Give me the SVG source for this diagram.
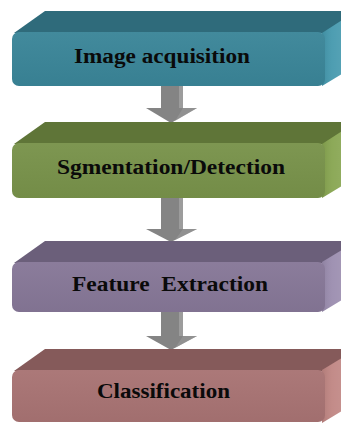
<svg xmlns="http://www.w3.org/2000/svg" width="341" height="423" viewBox="0 0 341 423">
<style>
.lbl{font-family:"Liberation Serif","Times New Roman",serif;font-weight:bold;font-size:20px;fill:#0a0a0a;text-anchor:start}
.shaft{fill:#848484}
.shaftHi{fill:#9c9c9c}
</style>
<defs>
<linearGradient id="sideG" x1="0" y1="0" x2="1" y2="0">
<stop offset="0" stop-color="#000" stop-opacity="0.08"/>
<stop offset="0.3" stop-color="#fff" stop-opacity="0.05"/>
<stop offset="1" stop-color="#fff" stop-opacity="0.15"/>
</linearGradient>
<linearGradient id="frontG" x1="0" y1="0" x2="0" y2="1">
<stop offset="0" stop-color="#fff" stop-opacity="0.04"/>
<stop offset="1" stop-color="#000" stop-opacity="0.04"/>
</linearGradient>
</defs>
<rect width="341" height="423" fill="#fff"/>

<g id="connectors">
<g id="arrow1">
<rect class="shaft" x="161" y="86" width="22" height="23"/>
<rect class="shaftHi" x="179" y="86" width="4" height="23"/>
<polygon points="146,108 197,108 171,123" fill="#848484"/>
<polygon points="183,108 197,108 175,121" fill="#999" opacity="0.6"/>
</g>
<g id="arrow2">
<rect class="shaft" x="161" y="198" width="22" height="32"/>
<rect class="shaftHi" x="179" y="198" width="4" height="32"/>
<polygon points="146,229 197,229 171,242" fill="#848484"/>
<polygon points="183,229 197,229 175,240" fill="#999" opacity="0.6"/>
</g>
<g id="arrow3">
<rect class="shaft" x="161" y="312" width="22" height="25"/>
<rect class="shaftHi" x="179" y="312" width="4" height="25"/>
<polygon points="146,336 197,336 171,350" fill="#848484"/>
<polygon points="183,336 197,336 175,348" fill="#999" opacity="0.6"/>
</g>
</g>

<g id="node1">
<polygon points="14,33 45,11 360,11 325,33" fill="#2F6B7B"/>
<polygon points="322,33 358,10 358,64 322,86" fill="#4599AE"/>
<polygon points="322,33 358,10 358,64 322,86" fill="url(#sideG)"/>
<rect x="12" y="32" width="313" height="54" rx="7" fill="#3A8598"/>
<rect x="12" y="32" width="313" height="54" rx="7" fill="url(#frontG)"/>
<text class="lbl" x="74" y="63" textLength="176" lengthAdjust="spacingAndGlyphs">Image acquisition</text>
</g>

<g id="node2">
<polygon points="14,144 45,122 360,122 325,144" fill="#5F7538"/>
<polygon points="322,144 358,121 358,176 322,198" fill="#87A550"/>
<polygon points="322,144 358,121 358,176 322,198" fill="url(#sideG)"/>
<rect x="12" y="143" width="313" height="55" rx="7" fill="#78924A"/>
<rect x="12" y="143" width="313" height="55" rx="7" fill="url(#frontG)"/>
<text class="lbl" x="57" y="174" textLength="228" lengthAdjust="spacingAndGlyphs">Sgmentation/Detection</text>
</g>

<g id="node3">
<polygon points="14,263 45,241 360,241 325,263" fill="#6B5F7A"/>
<polygon points="322,262 358,240 358,290 322,312" fill="#9B8DAF"/>
<polygon points="322,262 358,240 358,290 322,312" fill="url(#sideG)"/>
<rect x="12" y="262" width="313" height="50" rx="7" fill="#867797"/>
<rect x="12" y="262" width="313" height="50" rx="7" fill="url(#frontG)"/>
<text class="lbl" x="72" y="291" textLength="196" lengthAdjust="spacingAndGlyphs" xml:space="preserve">Feature  Extraction</text>
</g>

<g id="node4">
<polygon points="14,371 45,349 360,349 325,371" fill="#855A5A"/>
<polygon points="322,370 358,348 358,401 322,423" fill="#C08683"/>
<polygon points="322,370 358,348 358,401 322,423" fill="url(#sideG)"/>
<rect x="12" y="370" width="313" height="52" rx="7" fill="#A87373"/>
<rect x="12" y="370" width="313" height="52" rx="7" fill="url(#frontG)"/>
<text class="lbl" x="97" y="398" textLength="133" lengthAdjust="spacingAndGlyphs">Classification</text>
</g>
</svg>
